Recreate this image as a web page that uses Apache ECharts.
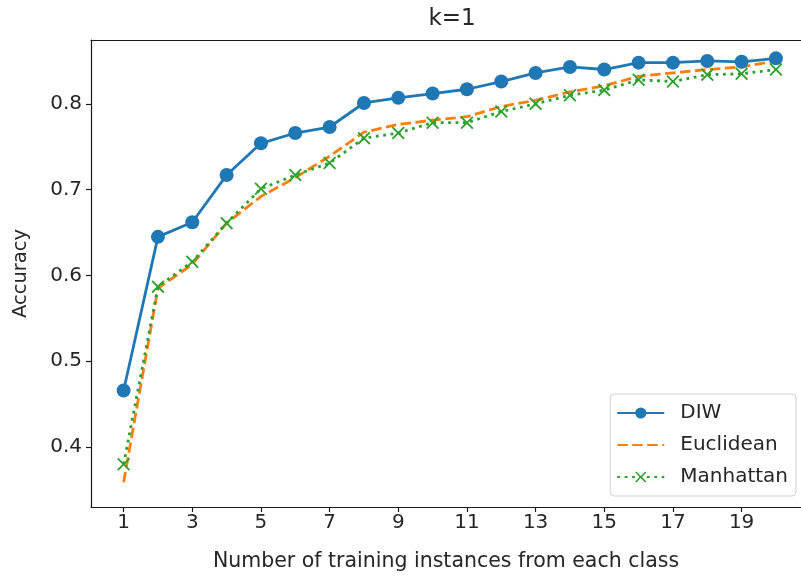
<!DOCTYPE html>
<html>
<head>
<meta charset="utf-8">
<script src="https://cdn.jsdelivr.net/npm/echarts@6/dist/echarts.min.js"></script>
<style>html,body{margin:0;padding:0;background:#fff}#c{width:801px;height:577px}</style>
</head>
<body>
<div id="c"></div>
<script>
const xValues = [1,2,3,4,5,6,7,8,9,10,11,12,13,14,15,16,17,18,19,20];
const diw = [0.466,0.645,0.662,0.717,0.754,0.766,0.773,0.801,0.807,0.812,0.817,0.826,0.836,0.843,0.840,0.848,0.848,0.850,0.849,0.853];
const euclidean = [0.359,0.585,0.613,0.661,0.692,0.714,0.739,0.767,0.776,0.781,0.785,0.797,0.804,0.814,0.821,0.832,0.836,0.840,0.843,0.850];
const manhattan = [0.380,0.587,0.616,0.661,0.701,0.717,0.731,0.760,0.766,0.778,0.778,0.791,0.800,0.810,0.816,0.828,0.826,0.834,0.835,0.840];
const xTicks = [1,3,5,7,9,11,13,15,17,19];
const yTicks = [0.4,0.5,0.6,0.7,0.8];

const FONT = 'DejaVu Sans';
const TXT = '#262626';
const AX = '#1a1a1a';
const pair = arr => arr.map((v,i)=>[xValues[i], v]);
const xPath = 'path://M0,1L1,0L5,4L9,0L10,1L6,5L10,9L9,10L5,6L1,10L0,9L4,5Z';

const chart = echarts.init(document.getElementById('c'), null, {renderer:'canvas'});
chart.setOption({
  animation: false,
  backgroundColor: '#fff',
  title: {text: 'k=1', left: 447, top: 3, textAlign: 'center',
    textStyle: {fontFamily: FONT, fontSize: 23, fontWeight: 'normal', color: TXT}},
  grid: {left: 91, top: 40, right: 0, height: 468, show: false},
  xAxis: [{
    type: 'value', min: 0.05, max: 20.73,
    name: 'Number of training instances from each class', nameLocation: 'middle', nameGap: 44,
    nameTextStyle: {fontFamily: FONT, fontSize: 20.5, color: TXT},
    axisLine: {show: true, onZero: false, lineStyle: {color: AX, width: 1.2}},
    axisTick: {show: true, length: 5, customValues: xTicks, lineStyle: {color: AX, width: 1.2}},
    axisLabel: {customValues: xTicks, fontFamily: FONT, fontSize: 20, color: TXT, margin: 6},
    splitLine: {show: false}
  }, {
    type: 'value', min: 0.05, max: 20.73, position: 'top',
    axisLine: {show: true, onZero: false, lineStyle: {color: AX, width: 1.2}},
    axisTick: {show: false}, axisLabel: {show: false}, splitLine: {show: false}
  }],
  yAxis: {
    type: 'value', min: 0.3302, max: 0.8744,
    name: 'Accuracy', nameLocation: 'middle', nameGap: 60,
    nameTextStyle: {fontFamily: FONT, fontSize: 19.5, color: TXT},
    axisLine: {show: true, onZero: false, lineStyle: {color: AX, width: 1.2}},
    axisTick: {show: true, length: 5, customValues: yTicks, lineStyle: {color: AX, width: 1.2}},
    axisLabel: {customValues: yTicks, fontFamily: FONT, fontSize: 20, color: TXT, margin: 9,
      formatter: v => (Math.round(v*10)/10).toFixed(1)},
    splitLine: {show: false}
  },
  legend: {
    orient: 'vertical', right: 5, bottom: 81,
    backgroundColor: '#fff', borderColor: '#d0d0d0', borderWidth: 1, borderRadius: 4,
    padding: [9, 8, 9, 6], itemWidth: 47, itemHeight: 14, itemGap: 12,
    textStyle: {fontFamily: FONT, fontSize: 20, color: TXT, padding: [0,0,0,11]},
    data: ['DIW', {name: 'Euclidean', itemStyle: {opacity: 0}}, 'Manhattan']
  },
  series: [
    {name: 'DIW', type: 'line', data: pair(diw), symbol: 'circle', symbolSize: 14,
      lineStyle: {color: '#1f77b4', width: 2.8}, itemStyle: {color: '#1f77b4'}, z: 3},
    {name: 'Euclidean', type: 'line', data: pair(euclidean), symbol: 'none',
      lineStyle: {color: '#ff7f0e', width: 2.8, type: [10.5, 4.5]}, itemStyle: {color: '#ff7f0e'}, z: 2},
    {name: 'Manhattan', type: 'line', data: pair(manhattan), symbol: xPath, symbolSize: 13,
      lineStyle: {color: '#2ca02c', width: 2.8, type: [2.8, 4.6]}, itemStyle: {color: '#2ca02c'}, z: 2}
  ]
});
</script>
</body>
</html>
